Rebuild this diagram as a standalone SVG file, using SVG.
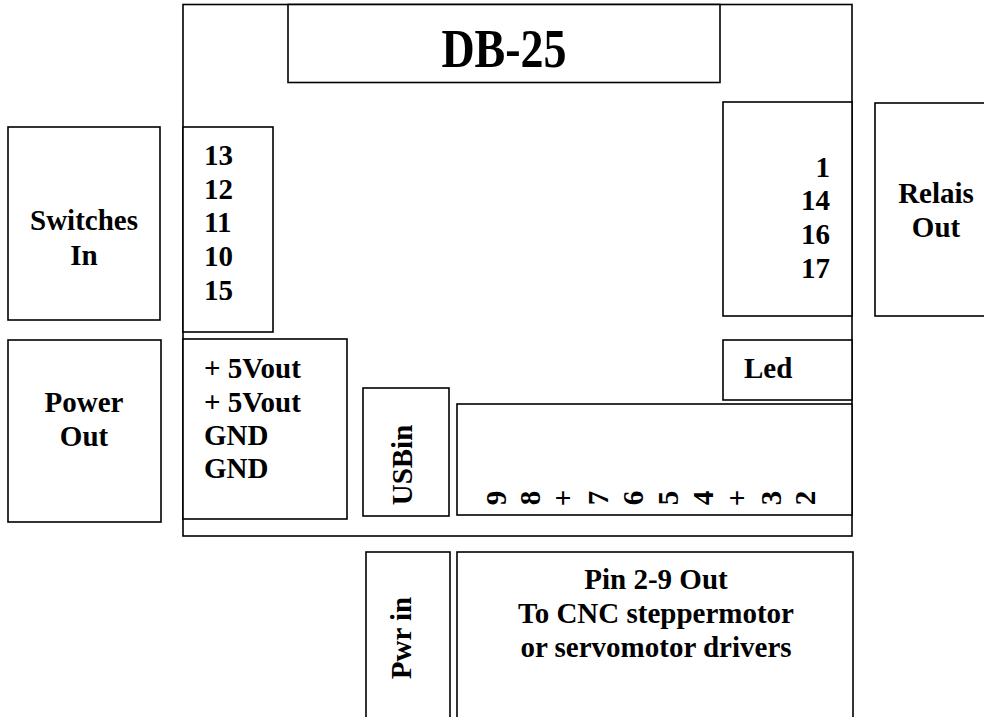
<svg xmlns="http://www.w3.org/2000/svg" width="984" height="717" viewBox="0 0 984 717">
<style>
.b{fill:#fff;stroke:#000;stroke-width:1.6}
.t{font-family:"Liberation Serif","Times New Roman",serif;font-weight:bold;font-size:29px;fill:#000}
.m{text-anchor:middle}
.e{text-anchor:end}
</style>
<rect width="984" height="717" fill="#fff"/>
<g id="board"><rect class="b" x="183" y="4.5" width="669" height="531.5"/></g>
<g id="db25"><rect class="b" x="288" y="4.5" width="432" height="78"/>
<text class="t m" style="font-size:46px" transform="translate(504,67) scale(1,1.2)">DB-25</text></g>
<g id="switches"><rect class="b" x="8" y="127" width="152" height="193"/>
<text class="t m" x="84" y="230">Switches</text><text class="t m" x="84" y="265">In</text></g>
<g id="inpins"><rect class="b" x="183" y="127" width="90" height="205"/>
<text class="t" x="204" y="165">13</text><text class="t" x="204" y="199">12</text><text class="t" x="204" y="232">11</text><text class="t" x="204" y="266">10</text><text class="t" x="204" y="300">15</text></g>
<g id="outpins"><rect class="b" x="723" y="102" width="129" height="214"/>
<text class="t e" x="830" y="177">1</text><text class="t e" x="830" y="210">14</text><text class="t e" x="830" y="244">16</text><text class="t e" x="830" y="278">17</text></g>
<g id="relais"><rect class="b" x="875" y="103" width="120" height="213"/>
<text class="t m" x="936" y="203">Relais</text><text class="t m" x="936" y="237">Out</text></g>
<g id="powerout"><rect class="b" x="8" y="340" width="153" height="182"/>
<text class="t m" x="84" y="412">Power</text><text class="t m" x="84" y="446">Out</text></g>
<g id="powerpins"><rect class="b" x="183" y="339" width="164" height="180"/>
<text class="t" x="204" y="378">+ 5Vout</text><text class="t" x="204" y="412">+ 5Vout</text><text class="t" x="204" y="445">GND</text><text class="t" x="204" y="478">GND</text></g>
<g id="usbin"><rect class="b" x="363" y="388" width="86" height="128"/>
<text class="t m" transform="translate(412,465) rotate(-90)">USBin</text></g>
<g id="led"><rect class="b" x="723" y="340" width="129" height="60"/>
<text class="t" x="744" y="378">Led</text></g>
<g id="steppins"><rect class="b" x="457" y="404" width="395" height="111"/>
<text class="t m" transform="translate(506,498) rotate(-90)">9</text>
<text class="t m" transform="translate(540,498) rotate(-90)">8</text>
<text class="t m" transform="translate(573,498) rotate(-90)">+</text>
<text class="t m" transform="translate(608,498) rotate(-90)">7</text>
<text class="t m" transform="translate(643,498) rotate(-90)">6</text>
<text class="t m" transform="translate(678,498) rotate(-90)">5</text>
<text class="t m" transform="translate(713,498) rotate(-90)">4</text>
<text class="t m" transform="translate(747,498) rotate(-90)">+</text>
<text class="t m" transform="translate(781,498) rotate(-90)">3</text>
<text class="t m" transform="translate(815,498) rotate(-90)">2</text></g>
<g id="pwrin"><rect class="b" x="366" y="552" width="84" height="180"/>
<text class="t m" transform="translate(411,638) rotate(-90)">Pwr in</text></g>
<g id="stepout"><rect class="b" x="457" y="552" width="396" height="180"/>
<text class="t m" x="656" y="589">Pin 2-9 Out</text><text class="t m" x="656" y="623">To CNC steppermotor</text><text class="t m" x="656" y="657">or servomotor drivers</text></g>
<g id="connectors"></g>
</svg>
